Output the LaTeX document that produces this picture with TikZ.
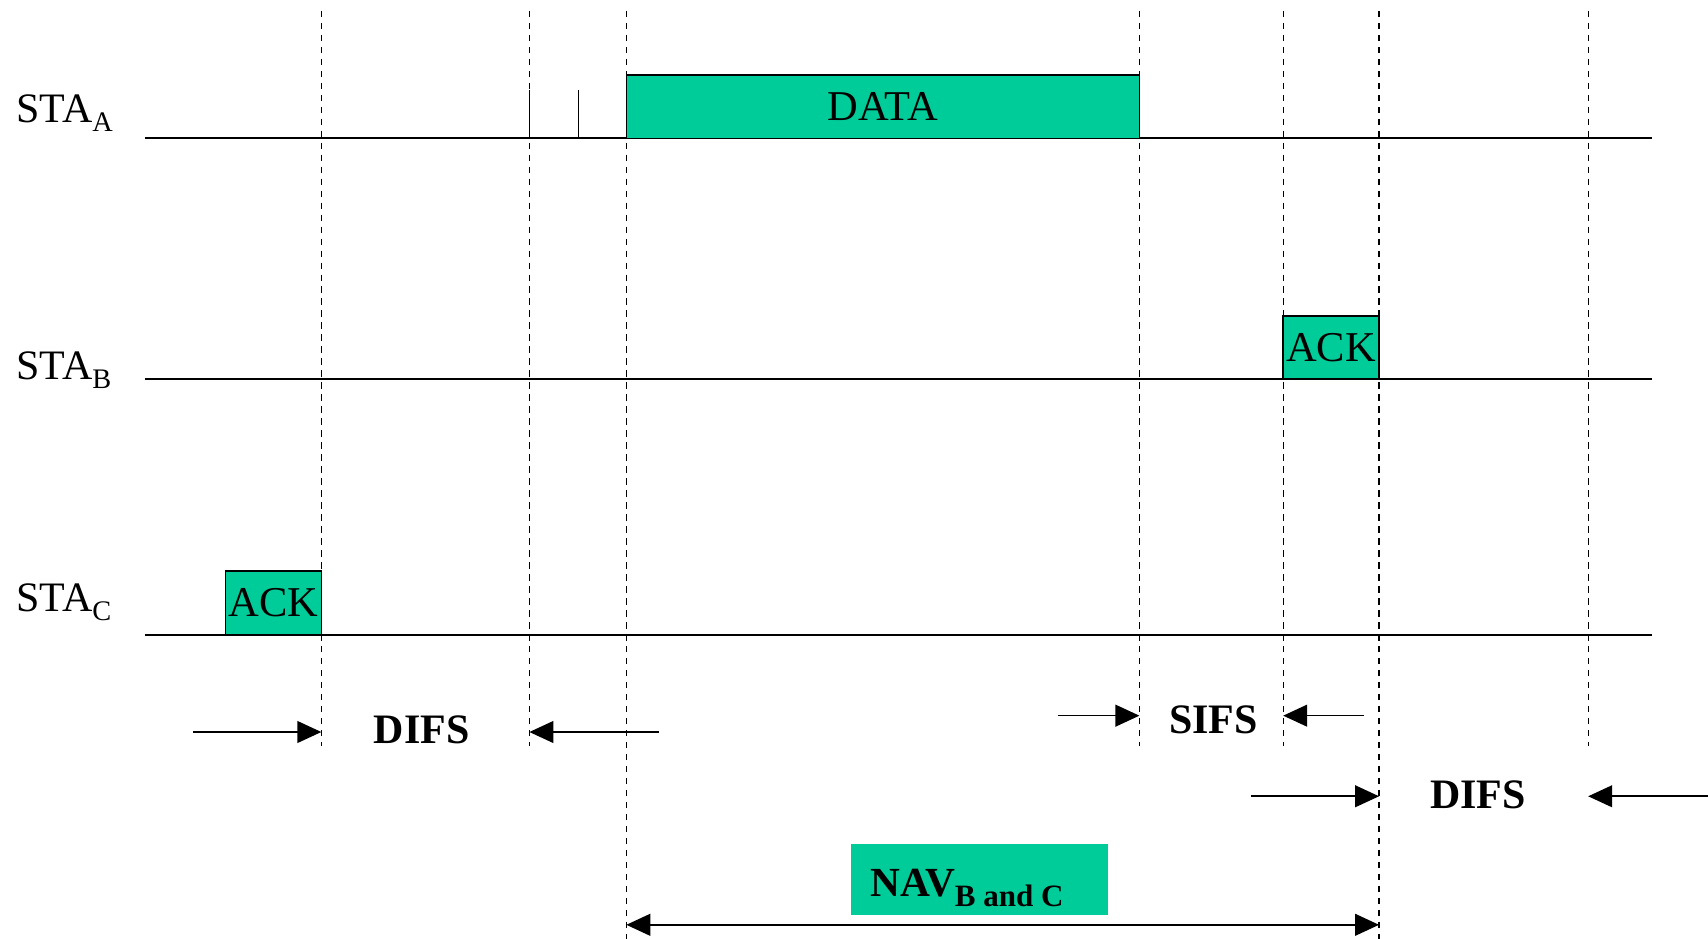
\documentclass[tikz,border=0pt]{standalone}
\usepackage{fontspec}
\setmainfont{Liberation Serif}
\usetikzlibrary{arrows.meta}
\definecolor{framegreen}{RGB}{0,204,153}
% lowered subscripts used in the station and NAV labels
\newcommand\stasub[1]{\raisebox{-9pt}{\fontsize{26}{27}\selectfont #1}}
\newcommand\navsub[1]{\raisebox{-9pt}{\fontsize{28.5}{29}\selectfont #1}}
\begin{document}
\begin{tikzpicture}[x=1pt,y=-1pt,
  timeline/.style={line width=1.9pt},
  slot/.style={line width=1.1pt, dash pattern=on 6pt off 5pt},
  tick/.style={line width=1.4pt},
  frame/.style={draw, line width=1.5pt, fill=framegreen, inner sep=0pt,
    font=\fontsize{39}{40}\selectfont},
  gap/.style={line width=1.5pt, -{Triangle[length=22pt,width=20pt]}},
  span/.style={line width=1.6pt, {Triangle[length=22pt,width=20pt]}-{Triangle[length=22pt,width=20pt]}},
  ifs/.style={inner sep=0pt, font=\fontsize{38.5}{40}\selectfont\bfseries},
  sta/.style={anchor=base west, inner sep=0pt, font=\fontsize{38.5}{40}\selectfont},
]
\useasboundingbox (0,0) rectangle (1568,862);

% slot boundaries
\foreach \n/\x/\yb in {1/295/685, 2/486/685, 3/575/862, 4/1046/685,
                       5/1178/685, 6/1266/862, 7/1458/685} {
  \coordinate (top\n) at (\x,10);
  \coordinate (bot\n) at (\x,\yb);
  \draw[slot] (top\n) -- (bot\n);
}

% station time lines
\coordinate (aL) at (133,127); \coordinate (aR) at (1517,127);
\coordinate (bL) at (133,348); \coordinate (bR) at (1517,348);
\coordinate (cL) at (133,583); \coordinate (cR) at (1517,583);
\draw[timeline] (aL) -- (aR);
\draw[timeline] (bL) -- (bR);
\draw[timeline] (cL) -- (cR);

\node[sta] (staA) at (15,112) {STA\stasub{A}};
\node[sta] (staB) at (15,348) {STA\stasub{B}};
\node[sta] (staC) at (15,561) {STA\stasub{C}};

% backoff slots of station A
\coordinate (k1t) at (486,83); \coordinate (k1b) at (486,127);
\coordinate (k2t) at (531,83); \coordinate (k2b) at (531,127);
\draw[tick] (k1t) -- (k1b);
\draw[tick] (k2t) -- (k2b);

% frames on the medium
\node[frame, minimum width=471pt, minimum height=58pt] (data) at (810.5,98) {DATA};
\node[frame, minimum width=88pt, minimum height=58pt] (ackB) at (1222,319) {ACK};
\node[frame, minimum width=88pt, minimum height=59pt] (ackC) at (251,553.5) {ACK};

% DIFS after the ACK of station C
\coordinate (d1a) at (177,672); \coordinate (d1b) at (295,672);
\coordinate (d1c) at (605,672); \coordinate (d1d) at (486,672);
\draw[gap] (d1a) -- (d1b);
\draw[gap] (d1c) -- (d1d);
\node[ifs] (difs1) at (387,670) {DIFS};

% SIFS before the ACK of station B
\coordinate (s1a) at (971,657); \coordinate (s1b) at (1046,657);
\coordinate (s1c) at (1252,657); \coordinate (s1d) at (1178,657);
\draw[gap] (s1a) -- (s1b);
\draw[gap] (s1c) -- (s1d);
\node[ifs] (sifs) at (1114,661) {SIFS};

% DIFS after the ACK of station B
\coordinate (d2a) at (1148,731); \coordinate (d2b) at (1266,731);
\coordinate (d2c) at (1568,731); \coordinate (d2d) at (1458,731);
\draw[gap] (d2a) -- (d2b);
\draw[gap] (d2c) -- (d2d);
\node[ifs] (difs2) at (1357,730) {DIFS};

% network allocation vector
\node[fill=framegreen, inner sep=0pt, minimum width=236pt, minimum height=65pt] (nav) at (899,807.5) {};
\node[anchor=base west, inner sep=0pt, font=\fontsize{38}{40}\selectfont\bfseries] (navtext) at (799,823) {NAV\navsub{B and C}};
\coordinate (navL) at (575,849); \coordinate (navR) at (1266,849);
\draw[span] (navL) -- (navR);
\end{tikzpicture}
\end{document}
